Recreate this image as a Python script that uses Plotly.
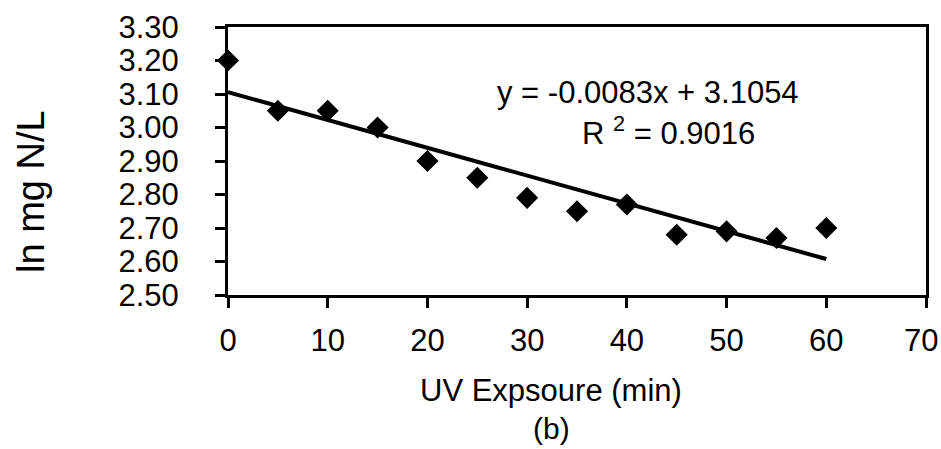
import plotly.graph_objects as go

exposure_min = [0, 5, 10, 15, 20, 25, 30, 35, 40, 45, 50, 55, 60]
ln_mg_n_l = [3.20, 3.05, 3.05, 3.00, 2.90, 2.85, 2.79, 2.75, 2.77, 2.68, 2.69, 2.67, 2.70]
trend_slope = -0.0083
trend_intercept = 3.1054
trend_x = [0, 60]
trend_y = [trend_slope * x + trend_intercept for x in trend_x]
x_ticks = [0, 10, 20, 30, 40, 50, 60, 70]
y_ticks = [2.50, 2.60, 2.70, 2.80, 2.90, 3.00, 3.10, 3.20, 3.30]

FONT = "Arial, Liberation Sans, sans-serif"

W, H = 941, 449
l, r, t, b = 228, 15, 27, 154
pw, ph = W - l - r, H - t - b


def px_to_paper(px, py):
    return (px - l) / pw, 1 - (py - t) / ph


fig = go.Figure()
fig.add_trace(go.Scatter(x=trend_x, y=trend_y, mode="lines",
                         line=dict(color="black", width=4), showlegend=False,
                         cliponaxis=False))
fig.add_trace(go.Scatter(x=exposure_min, y=ln_mg_n_l, mode="markers",
                         marker=dict(symbol="diamond", size=17, color="black"),
                         showlegend=False, cliponaxis=False))

ann_specs = [
    ("y = -0.0083x + 3.1054", 648, 93, 31, 0),
    ("R <sup>2</sup> = 0.9016", 668, 131, 31, 0),
    ("UV Expsoure (min)", 551, 390, 31, 0),
    ("(b)", 551, 428, 30, 0),
    ("ln mg N/L", 31, 192, 38, -90),
]
annotations = []
for text, px, py, size, angle in ann_specs:
    x, y = px_to_paper(px, py)
    annotations.append(dict(text=text, x=x, y=y, xref="paper", yref="paper",
                            xanchor="center", yanchor="middle", showarrow=False,
                            textangle=angle, borderpad=0, font=dict(size=size)))

# last x tick label: Excel nudges it left so it fits inside the canvas
annotations.append(dict(text=str(x_ticks[-1]), x=x_ticks[-1], y=0, xref="x", yref="paper",
                        xanchor="right", yanchor="top", yshift=-27, xshift=13,
                        showarrow=False, borderpad=0, font=dict(size=31)))

fig.update_layout(
    width=W, height=H,
    margin=dict(l=l, r=r, t=t, b=b, autoexpand=False),
    paper_bgcolor="white", plot_bgcolor="white",
    font=dict(family=FONT, size=31, color="black"),
    xaxis=dict(range=[0, 70], tickvals=x_ticks,
               ticktext=[str(v) for v in x_ticks[:-1]] + [""],
               showgrid=False, zeroline=False, showline=True, linecolor="black",
               linewidth=3, mirror=True, ticks="outside", ticklen=10, tickwidth=3,
               tickcolor="black", ticklabelstandoff=6, ticklabeloverflow="allow",
               automargin=False, tickfont=dict(size=31)),
    yaxis=dict(range=[2.5, 3.3], tickvals=y_ticks, ticktext=[f"{v:.2f}" for v in y_ticks],
               showgrid=False, zeroline=False, showline=True, linecolor="black",
               linewidth=3, mirror=True, ticks="outside", ticklen=10, tickwidth=3,
               tickcolor="black", ticklabelstandoff=30, automargin=False,
               tickfont=dict(size=31)),
    annotations=annotations,
)

fig.write_html("out.html")
